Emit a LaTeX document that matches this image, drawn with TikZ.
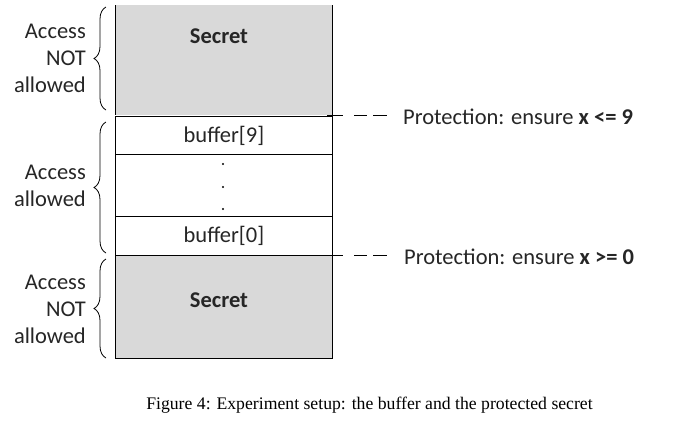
\documentclass[tikz,border=0pt]{standalone}
\usepackage{fontspec}
\setmainfont{Carlito}
\newfontfamily\capfont{Liberation Serif}
\usetikzlibrary{decorations.pathreplacing}
\definecolor{secgray}{HTML}{D9D9D9}
\definecolor{txt}{HTML}{262626}
\tikzset{
  secretbox/.style={fill=secgray, draw=black, line width=0.8pt},
  bufbox/.style={fill=white, draw=black, line width=0.8pt},
  lbl/.style={font=\fontsize{22.5}{27}\selectfont, text=txt, align=right, anchor=east, inner sep=0pt},
  celltext/.style={font=\fontsize{22.5}{25}\selectfont, text=txt, inner sep=0pt},
  brc/.style={decorate, decoration={brace, amplitude=12pt, mirror}, line width=0.8pt},
  prot/.style={font=\fontsize{22.5}{25}\selectfont, text=txt, anchor=west, inner sep=0pt}
}
\begin{document}
\begin{tikzpicture}[x=1pt,y=-1pt]
\useasboundingbox (0,0) rectangle (699,426);
% top secret (open top)
\fill[secgray] (115,5) rectangle (332,115);
\draw[line width=0.8pt] (115,5) -- (115,115) (332,5) -- (332,115);
\node[celltext, font=\fontsize{22.5}{25}\selectfont\bfseries] (s1) at (219,36) {Secret};
% buffer 9
\node[bufbox, minimum width=217pt, minimum height=38pt, inner sep=0pt, anchor=north west] (b9) at (115,116) {};
\node[celltext] (t9) at (b9.center) {buffer[9]};
% middle
\draw[line width=0.8pt] (115,154) -- (115,216) (332,154) -- (332,216);
\node[circle, fill=black, inner sep=0.8pt] (d1) at (223,164) {};
\node[circle, fill=black, inner sep=0.8pt] (d2) at (223,187) {};
\node[circle, fill=black, inner sep=0.8pt] (d3) at (223,209) {};
% buffer 0
\node[bufbox, minimum width=217pt, minimum height=39pt, inner sep=0pt, anchor=north west] (b0) at (115,216) {};
\node[celltext] (t0) at (b0.center) {buffer[0]};
% bottom secret
\node[secretbox, minimum width=217pt, minimum height=103pt, inner sep=0pt, anchor=north west] (s2box) at (115,255) {};
\node[celltext, font=\fontsize{22.5}{25}\selectfont\bfseries] (s2) at (219,300) {Secret};
% protection lines
\coordinate (p1a) at (327,115);
\coordinate (p1b) at (343,115);
\coordinate (p2a) at (327,255);
\coordinate (p2b) at (343,255);
\coordinate (p1c) at (354,115);
\coordinate (p1d) at (367,115);
\coordinate (p1e) at (373,115);
\coordinate (p1f) at (387,115);
\coordinate (p2c) at (354,255);
\coordinate (p2d) at (367,255);
\coordinate (p2e) at (373,255);
\coordinate (p2f) at (387,255);
\draw[line width=0.9pt] (p1a) -- (p1b) (p1c) -- (p1d) (p1e) -- (p1f);
\draw[line width=0.9pt] (p2a) -- (p2b) (p2c) -- (p2d) (p2e) -- (p2f);
\node[prot] (pt1) at (403,117) {Protection: ensure \textbf{x <= 9}};
\node[prot] (pt2) at (404,257) {Protection: ensure \textbf{x >= 0}};
% braces
\draw[brc] (106,7) -- (106,110);
\draw[brc] (106,122) -- (106,253);
\draw[brc] (106,259) -- (106,358);
\node[lbl] (l1) at (86,58) {Access\\NOT\\allowed};
\node[lbl] (l2) at (86,186) {Access\\allowed};
\node[lbl] (l3) at (86,309) {Access\\NOT\\allowed};
% caption
\node[font=\capfont\fontsize{17.7}{20}\selectfont, inner sep=0pt] (cap) at (369.5,405) {Figure 4: Experiment setup: the buffer and the protected secret};
\end{tikzpicture}
\end{document}
